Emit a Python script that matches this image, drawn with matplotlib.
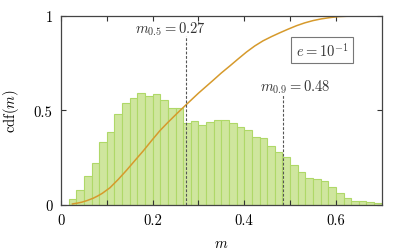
import numpy as np
import matplotlib
matplotlib.use("Agg")
import matplotlib.pyplot as plt

# histogram (bin width 1/60, first bin starts at 1/60)
bin_w = 1.0 / 60
bin_left = np.arange(1, 42) / 60.0
hist = [0.030, 0.077, 0.152, 0.219, 0.332, 0.385, 0.481, 0.538, 0.563, 0.591,
        0.577, 0.584, 0.552, 0.510, 0.510, 0.434, 0.443, 0.423, 0.439, 0.448,
        0.446, 0.431, 0.410, 0.395, 0.357, 0.351, 0.309, 0.279, 0.251, 0.208,
        0.171, 0.140, 0.134, 0.124, 0.092, 0.060, 0.034, 0.021, 0.018, 0.013,
        0.010]

# cumulative distribution
m_cdf = [0.025, 0.035, 0.045, 0.057, 0.07, 0.08, 0.09, 0.107, 0.125, 0.143, 0.16,
         0.18, 0.198, 0.216, 0.234, 0.252, 0.271, 0.30, 0.332, 0.350, 0.369,
         0.387, 0.405, 0.423, 0.441, 0.46, 0.478, 0.496, 0.514, 0.532, 0.55,
         0.568, 0.587, 0.605, 0.623, 0.66, 0.70]
cdf = [0.004, 0.008, 0.013, 0.022, 0.034, 0.046, 0.060, 0.090, 0.134, 0.182, 0.230,
       0.286, 0.340, 0.392, 0.437, 0.480, 0.524, 0.590, 0.658, 0.697, 0.735,
       0.772, 0.808, 0.840, 0.867, 0.890, 0.910, 0.929, 0.947, 0.962, 0.974,
       0.983, 0.990, 0.995, 0.997, 0.999, 1.0]

m50, m90 = 0.272, 0.4835

plt.rcParams['font.family'] = 'serif'
plt.rcParams['font.serif'] = ['cmr10', 'DejaVu Serif']
plt.rcParams['mathtext.fontset'] = 'cm'
plt.rcParams['axes.formatter.use_mathtext'] = True

fig = plt.figure(figsize=(4.07, 2.51), dpi=100)
ax = fig.add_axes([0.1499, 0.1805, 0.7879, 0.753])

ax.bar(bin_left, hist, width=bin_w, align='edge', color='#cfe69e',
       edgecolor='#afd868', linewidth=0.8)
ax.plot(m_cdf, cdf, color='#d69a2c', lw=1.1)

ax.plot([m50, m50], [0, 0.893], ls=(0, (2.5, 1.5)), color='#555555', lw=0.8)
ax.plot([m90, m90], [0, 0.585], ls=(0, (2.5, 1.5)), color='#555555', lw=0.8)
ax.text(0.238, 0.935, r'$m_{0.5} = 0.27$', ha='center', va='center', fontsize=10.5, color='#333333')
ax.text(0.511, 0.625, r'$m_{0.9} = 0.48$', ha='center', va='center', fontsize=10.5, color='#333333')
ax.text(0.57, 0.818, r'$e = 10^{-1}$', ha='center', va='center', fontsize=10.5, color='#333333',
        bbox=dict(boxstyle='square,pad=0.3', fc='white', ec='#777777', lw=0.8))

ax.set_xlim(0, 0.7)
ax.set_ylim(0, 1)
ax.set_xticks([0, 0.2, 0.4, 0.6])
ax.set_xticklabels(['0', '0.2', '0.4', '0.6'])
ax.set_xticks([0.1, 0.3, 0.5], minor=True)
ax.set_yticks([0, 0.5, 1])
ax.set_yticklabels(['0', '0.5', '1'])
ax.tick_params(which='both', direction='in', top=True, right=True, length=3.5,
               width=0.8, color='#333333', labelsize=10.5, pad=6)
for s in ax.spines.values():
    s.set_color('#444444')
    s.set_linewidth(0.9)

ax.set_xlabel(r'$m$', fontsize=10.5, labelpad=7)
ax.set_ylabel(r'$\mathrm{cdf}(m)$', fontsize=10.5, labelpad=9)

fig.savefig('out.png', dpi=100)
